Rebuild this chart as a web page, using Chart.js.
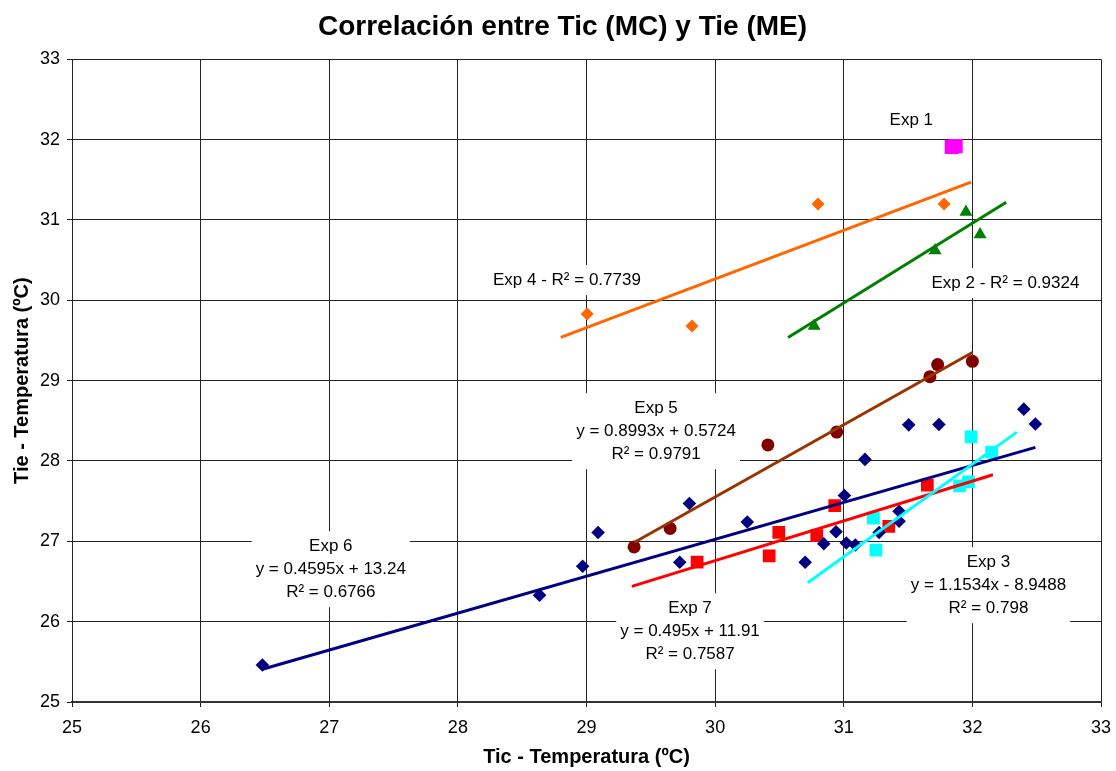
<!DOCTYPE html>
<html>
<head>
<meta charset="utf-8">
<script src="https://cdn.jsdelivr.net/npm/chart.js@4/dist/chart.umd.min.js"></script>
<style>
  html, body { margin: 0; padding: 0; background: #fff; }
  #wrap { width: 1116px; height: 771px; }
</style>
</head>
<body>
<div id="wrap"><canvas id="c" width="1116" height="771"></canvas></div>
<script>
// ---------- DATA ----------
const xTicks = [25, 26, 27, 28, 29, 30, 31, 32, 33];
const yTicks = [25, 26, 27, 28, 29, 30, 31, 32, 33];

const exp1X = [31.84, 31.87];
const exp1Y = [31.91, 31.92];

const exp2X = [30.77, 31.71, 31.95, 32.06];
const exp2Y = [29.68, 30.62, 31.10, 30.82];

const exp3X = [31.23, 31.25, 31.90, 31.97, 31.99, 32.15];
const exp3Y = [27.29, 26.89, 27.69, 27.74, 28.30, 28.11];

const exp4X = [29.005, 29.82, 30.80, 31.78];
const exp4Y = [29.83, 29.68, 31.20, 31.20];

const exp5X = [29.37, 29.65, 30.41, 30.945, 31.67, 31.73, 32.00];
const exp5Y = [26.93, 27.16, 28.20, 28.36, 29.05, 29.20, 29.24];

const exp6X = [26.48, 28.635, 28.97, 29.09, 29.725, 29.80, 30.25, 30.70, 30.845, 30.94, 31.005,
               31.02, 31.09, 31.165, 31.275, 31.43, 31.43, 31.505, 31.74, 32.40, 32.49];
const exp6Y = [25.46, 26.33, 26.69, 27.11, 26.74, 27.47, 27.24, 26.74, 26.97, 27.12, 27.57,
               26.98, 26.955, 28.02, 27.11, 27.375, 27.25, 28.45, 28.455, 28.645, 28.46];

const exp7X = [29.86, 30.42, 30.495, 30.79, 30.93, 31.35, 31.65];
const exp7Y = [26.74, 26.82, 27.11, 27.07, 27.445, 27.185, 27.70];

// trend lines: Exp 2, Exp 3, Exp 4, Exp 5, Exp 6, Exp 7
const trendNames      = ['Exp 2', 'Exp 3', 'Exp 4', 'Exp 5', 'Exp 6', 'Exp 7'];
const trendSlopes     = [0.9926, 1.1534, 0.606, 0.8993, 0.4595, 0.495];
const trendIntercepts = [-0.8035, -8.9488, 12.085, 0.5724, 13.24, 11.91];
const trendFrom       = [30.567, 30.72, 28.80, 29.37, 26.48, 29.353];
const trendTo         = [32.263, 32.346, 31.99, 32.00, 32.49, 32.16];

// ---------- CHART ----------
const FONT = '"Liberation Sans", Arial, Helvetica, sans-serif';
const pts = (xs, ys) => xs.map((v, i) => ({ x: v, y: ys[i] }));
const trendColors = ['#008000', '#00FFFF', '#FF6600', '#993300', '#000080', '#FF0000'];

const trendSets = trendNames.map((n, i) => ({
  label: n + ' trend',
  data: [trendFrom[i], trendTo[i]].map(v => ({ x: v, y: trendSlopes[i] * v + trendIntercepts[i] })),
  showLine: true,
  borderColor: trendColors[i],
  borderWidth: 3,
  pointRadius: 0,
  fill: false,
  order: 0
}));

const markerSets = [
  { label: 'Exp 1', data: pts(exp1X, exp1Y), pointStyle: 'rect', pointRadius: 10, backgroundColor: '#FF00FF', borderColor: '#FF00FF' },
  { label: 'Exp 2', data: pts(exp2X, exp2Y), pointStyle: 'triangle', pointRadius: 7.5, backgroundColor: '#008000', borderColor: '#008000' },
  { label: 'Exp 3', data: pts(exp3X, exp3Y), pointStyle: 'rect', pointRadius: 9, backgroundColor: '#00FFFF', borderColor: '#00FFFF' },
  { label: 'Exp 4', data: pts(exp4X, exp4Y), pointStyle: 'rectRot', pointRadius: 6.5, backgroundColor: '#FF6600', borderColor: '#FF6600' },
  { label: 'Exp 5', data: pts(exp5X, exp5Y), pointStyle: 'circle', pointRadius: 6.5, backgroundColor: '#800000', borderColor: '#800000' },
  { label: 'Exp 6', data: pts(exp6X, exp6Y), pointStyle: 'rectRot', pointRadius: 6.8, backgroundColor: '#000080', borderColor: '#000080' },
  { label: 'Exp 7', data: pts(exp7X, exp7Y), pointStyle: 'rect', pointRadius: 9, backgroundColor: '#FF0000', borderColor: '#FF0000' }
].map(d => Object.assign(d, { showLine: false, borderWidth: 0, order: 1 }));

// text annotations (anchored in data coordinates)
const annotations = [
  { x: 31.525, y: 32.244, lines: ['Exp 1'] },
  { x: 28.848, y: 30.252, lines: ['Exp 4 - R² = 0.7739'] },
  { x: 32.257, y: 30.214, lines: ['Exp 2 - R² = 0.9324'] },
  { x: 29.541, y: 28.657, lines: ['Exp 5', 'y = 0.8993x + 0.5724', 'R² = 0.9791'] },
  { x: 27.012, y: 26.939, lines: ['Exp 6', 'y = 0.4595x + 13.24', 'R² = 0.6766'] },
  { x: 29.805, y: 26.167, lines: ['Exp 7', 'y = 0.495x + 11.91', 'R² = 0.7587'] },
  { x: 32.125, y: 26.740, lines: ['Exp 3', 'y = 1.1534x - 8.9488', 'R² = 0.798'] }
];

const textPlugin = {
  id: 'textPlugin',
  beforeDatasetsDraw(chart) {
    const { ctx, scales: { x, y } } = chart;
    ctx.save();
    ctx.font = '17px ' + FONT;
    ctx.textAlign = 'center';
    ctx.textBaseline = 'middle';
    const LH = 23;
    annotations.forEach(a => {
      const cx = x.getPixelForValue(a.x), cy = y.getPixelForValue(a.y);
      const w = Math.max(...a.lines.map(t => ctx.measureText(t).width)) + 8;
      const top = cy - 15, h = (a.lines.length - 1) * LH + 30;
      ctx.fillStyle = '#ffffff';
      ctx.fillRect(cx - w / 2, top, w, h);
      ctx.fillStyle = '#000000';
      a.lines.forEach((t, i) => ctx.fillText(t, cx, cy + i * LH));
    });
    ctx.restore();
  },
  afterDraw(chart) {
    const { ctx, chartArea } = chart;
    ctx.save();
    ctx.fillStyle = '#000';
    ctx.font = 'bold 20px ' + FONT;
    ctx.textAlign = 'center';
    ctx.textBaseline = 'middle';
    ctx.fillText('Tic - Temperatura (ºC)', (chartArea.left + chartArea.right) / 2, 757);
    ctx.translate(22, (chartArea.top + chartArea.bottom) / 2);
    ctx.rotate(-Math.PI / 2);
    ctx.fillText('Tie - Temperatura (ºC)', 0, 0);
    ctx.restore();
  }
};

new Chart(document.getElementById('c'), {
  type: 'scatter',
  data: { datasets: [...trendSets, ...markerSets] },
  options: {
    responsive: false,
    animation: false,
    layout: { padding: { left: 24, right: 15, top: 0, bottom: 0 } },
    plugins: {
      legend: { display: false },
      tooltip: { enabled: false },
      title: {
        display: true,
        text: 'Correlación entre Tic (MC) y Tie (ME)',
        color: '#000',
        font: { family: FONT, size: 28, weight: 'bold' },
        padding: { top: 10.5, bottom: 15.2 }
      }
    },
    scales: {
      x: {
        type: 'linear',
        min: xTicks[0], max: xTicks[xTicks.length - 1],
        afterBuildTicks: s => { s.ticks = xTicks.map(v => ({ value: v })); },
        afterFit: s => { s.height = 69; s.paddingLeft = 0; s.paddingRight = 0; },
        ticks: { color: '#000', font: { family: FONT, size: 18 }, padding: 10, maxRotation: 0 },
        grid: { color: '#222', lineWidth: 1, tickLength: 5 },
        border: { color: '#333', width: 2 }
      },
      y: {
        type: 'linear',
        min: yTicks[0], max: yTicks[yTicks.length - 1],
        afterBuildTicks: s => { s.ticks = yTicks.map(v => ({ value: v })); },
        afterFit: s => { s.width = 48; s.paddingTop = 0; s.paddingBottom = 0; },
        ticks: { color: '#000', font: { family: FONT, size: 18 }, padding: 7 },
        grid: { color: '#222', lineWidth: 1, tickLength: 5 },
        border: { color: '#222', width: 1 }
      }
    }
  },
  plugins: [textPlugin]
});
</script>
</body>
</html>
